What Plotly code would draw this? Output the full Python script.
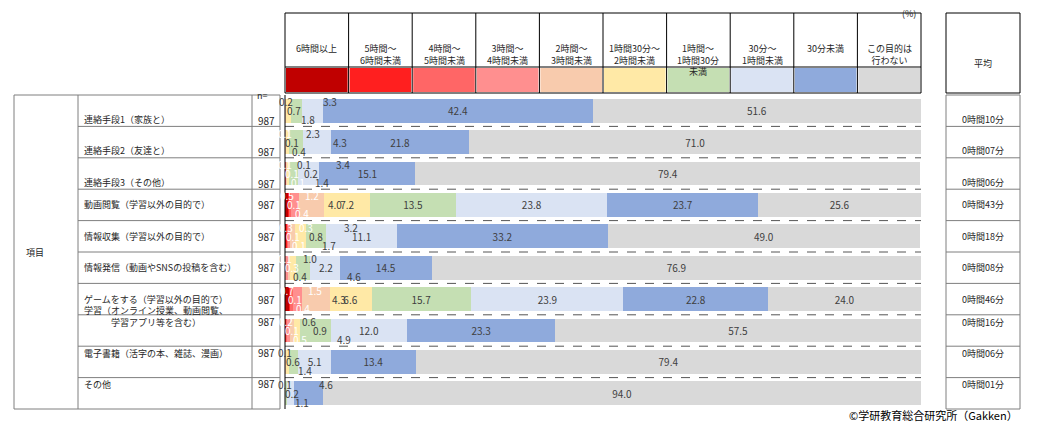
import plotly.graph_objects as go

items = ["連絡手段1（家族と）", "連絡手段2（友達と）", "連絡手段3（その他）", "動画閲覧（学習以外の目的で）",
         "情報収集（学習以外の目的で）", "情報発信（動画やSNSの投稿を含む）", "ゲームをする（学習以外の目的で）",
         "学習（オンライン授業、動画閲覧、<br>学習アプリ等を含む）", "電子書籍（活字の本、雑誌、漫画）", "その他"]
n_values = [987] * 10
averages = ["0時間10分", "0時間07分", "0時間06分", "0時間43分", "0時間18分", "0時間08分", "0時間46分", "0時間16分", "0時間06分", "0時間01分"]
categories = ["6時間以上", "5時間～<br>6時間未満", "4時間～<br>5時間未満", "3時間～<br>4時間未満", "2時間～<br>3時間未満",
              "1時間30分～<br>2時間未満", "1時間～<br>1時間30分<br>未満", "30分～<br>1時間未満", "30分未満", "この目的は<br>行わない"]
colors = ["#C00000", "#FF1F1F", "#FF6666", "#FF8F8F", "#F8CBAD", "#FFE9A6", "#C5DFB3", "#DAE3F3", "#8FAADC", "#D9D9D9"]

values = [
    [0, 0, 0, 0, 0.2, 0.7, 1.8, 3.3, 42.4, 51.6],
    [0, 0, 0, 0.1, 0.1, 0.4, 2.3, 4.3, 21.8, 71.0],
    [0, 0.1, 0.1, 0.1, 0.1, 0.2, 1.4, 3.4, 15.1, 79.4],
    [0.5, 0.1, 0.4, 1.2, 4.0, 7.2, 13.5, 23.8, 23.7, 25.6],
    [0.3, 0.1, 0.1, 0.3, 0.8, 1.7, 3.2, 11.1, 33.2, 49.0],
    [0, 0, 0.1, 0.3, 0.4, 1.0, 2.2, 4.6, 14.5, 76.9],
    [0.7, 0.1, 0.4, 1.5, 4.3, 6.6, 15.7, 23.9, 22.8, 24.0],
    [0, 0.2, 0.1, 0.5, 0.6, 0.9, 4.9, 12.0, 23.3, 57.5],
    [0, 0, 0, 0, 0.1, 0.6, 1.4, 5.1, 13.4, 79.4],
    [0, 0, 0, 0, 0, 0.1, 0.2, 1.1, 4.6, 94.0],
]

O = 8  # browser body margin
W, H = 1049 - 2 * O, 441 - 2 * O
L, R, T, B = 285, 921, 95, 409
def px(x): return (x - L) / (R - L)
def py(y): return (B - y) / (B - T)

nrows = len(items)
rowh = (B - T) / nrows
fig = go.Figure()
ys = list(range(nrows))
for c in range(10):
    xs = [values[r][c] for r in range(nrows)]
    txt = [f"{v:.1f}" if v >= 5 else "" for v in xs]
    fig.add_trace(go.Bar(y=ys, x=xs, orientation="h", marker=dict(color=colors[c], line=dict(width=0)),
                         text=txt, textposition="inside", insidetextanchor="middle",
                         textfont=dict(size=10, color="#404040"), width=0.76, showlegend=False, cliponaxis=False))

annotations = []
shapes = []
for r in range(nrows):
    cum = 0
    k = 0
    for c in range(10):
        v = values[r][c]
        if 0 < v < 5:
            offs = [-9, 0, 9][k % 3]
            col = "white" if c <= 3 else "#404040"
            annotations.append(dict(x=cum + v / 2 + 0.9 * k, y=r, yshift=-offs, text=f"{v:.1f}", showarrow=False,
                                    xref="x", yref="y", font=dict(size=10, color=col)))
            k += 1
        cum += v

line_col = "#7F7F7F"
def hline(x0, x1, y, dash="solid", color=line_col, w=1):
    shapes.append(dict(type="line", xref="paper", yref="paper", x0=px(x0), x1=px(x1), y0=py(y), y1=py(y),
                       line=dict(color=color, width=w, dash=dash)))
def vline(x, y0, y1, color=line_col, w=1):
    shapes.append(dict(type="line", xref="paper", yref="paper", x0=px(x), x1=px(x), y0=py(y0), y1=py(y1),
                       line=dict(color=color, width=w)))
def text(x, y, s, anchor="center", size=10, color="#262626"):
    annotations.append(dict(x=px(x), y=py(y), xref="paper", yref="paper", text=s, showarrow=False,
                            xanchor=anchor, font=dict(size=size, color=color)))

colw = (R - L) / 10
hline(L, R, 13, color="#000")
hline(L, R, 67, color="#000")
hline(L, R, 93, color="#000")
for c in range(11):
    vline(L + c * colw, 13, 93, color="#000")
for c in range(10):
    shapes.append(dict(type="rect", xref="paper", yref="paper", x0=px(L + c * colw + 1), x1=px(L + (c + 1) * colw - 1),
                       y0=py(92), y1=py(68), fillcolor=colors[c], line=dict(width=0)))
    text(L + (c + 0.5) * colw, 40, categories[c], size=9)
text(918, 5, "(%)", anchor="right", size=9)
text(262, 87, "n=", size=9)

top, bot = T, B
for x in [14, 78, 252, 280]:
    vline(x, top, bot)
hline(14, 280, top); hline(14, 280, bot)
for r in range(1, nrows):
    y = top + r * rowh
    hline(78, 280, y)
    hline(L, R, y, dash="dash", color="#555")
for r in range(nrows):
    yc = top + (r + 0.5) * rowh
    text(82, yc, items[r], anchor="left", size=9)
    text(266, yc, str(n_values[r]), size=10)
    text(983, yc, averages[r], size=9)
text(24, 252, "項目", anchor="left", size=9)

for x in [946, 1020]:
    vline(x, 13, 93, color="#000"); vline(x, top, bot)
hline(946, 1020, 13, color="#000"); hline(946, 1020, 93, color="#000")
hline(946, 1020, top); hline(946, 1020, bot)
for r in range(1, nrows):
    hline(946, 1020, top + r * rowh)
text(983, 55, "平均", size=9)
vline(L, top, bot, color="#000")

text(1020, 425, "©学研教育総合研究所（Gakken）", anchor="right", size=11, color="#000")

# shift all target pixel coords by body margin
LL, RR, TT, BB = L - O, R - O, T - O, B - O
fig.update_layout(barmode="stack", width=W, height=H, margin=dict(l=LL, r=W - RR, t=TT, b=H - BB),
                  plot_bgcolor="white", paper_bgcolor="white", font=dict(family="Noto Sans CJK JP"),
                  xaxis=dict(range=[0, 100], visible=False, fixedrange=True),
                  yaxis=dict(range=[nrows - 0.5, -0.5], visible=False),
                  shapes=shapes, annotations=annotations, uniformtext=dict(mode="show", minsize=9))
fig.write_html("out.html")
